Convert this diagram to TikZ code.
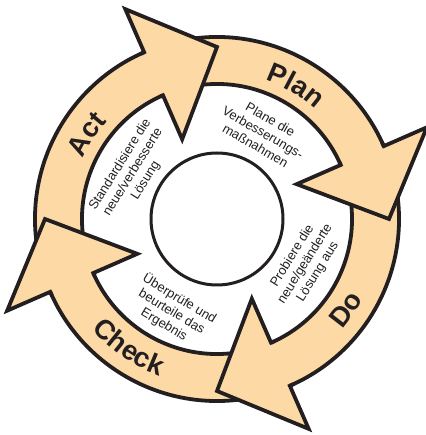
\documentclass[tikz,border=0pt]{standalone}
\usepackage{fontspec}
\setmainfont{Liberation Sans}
\usetikzlibrary{decorations.text}
\definecolor{bandfill}{RGB}{253,218,165}
\definecolor{ink}{RGB}{35,31,32}
\newcommand{\biglabel}{\fontsize{27.5}{27.5}\selectfont\bfseries\color{ink}}
\begin{document}
\begin{tikzpicture}[x=1pt,y=1pt,
  bandstyle/.style={fill=bandfill, draw=ink, line width=3.8pt, line join=miter},
  headfill/.style={fill=bandfill},
  headline/.style={draw=ink, line width=3.8pt, line join=miter},
  innertext/.style={align=center, font=\fontsize{13}{15}\selectfont, text=ink, inner sep=0pt},
  hubstyle/.style={circle, draw=ink, line width=3pt, minimum size=132pt, inner sep=0pt},
  labelpath/.style={decorate, decoration={text along path, text align=center, text={#1}}}]
\useasboundingbox (-217,-216) rectangle (208,219);
% bands of the four arrows
\foreach \t in {90,0,-90,180}{
  \pgfmathsetmacro{\ts}{\t+102}
  \pgfmathsetmacro{\te}{\t+15.6}
  \path[bandstyle] (\ts:182) arc[start angle=\ts, end angle=\te, radius=182]
     -- (\te:135) arc[start angle=\te, end angle=\ts, radius=135] -- cycle;
}
% heads of the four arrows
\foreach \t in {90,0,-90,180}{
  \pgfmathsetmacro{\tb}{\t+23.6}
  \pgfmathsetmacro{\tc}{\t+25}
  \fill[headfill] (\tb:135) -- (\tb:87) -- (\t:172) -- (\tb:229) -- (\tb:182) -- cycle;
  \draw[headline] (\tc:135) arc[start angle=\tc, end angle=\tb, radius=135]
     -- (\tb:87) -- (\t:172) -- (\tb:229) -- (\tb:182)
     arc[start angle=\tb, end angle=\tc, radius=182];
}
% hub
\node[hubstyle] (hub) at (0,0) {};
% big labels
\path[labelpath={|\biglabel|Plan}] (89.4:147) arc[start angle=89.4, end angle=29.4, radius=147];
\path[labelpath={|\biglabel|Act}] (177:147) arc[start angle=177, end angle=117, radius=147];
\path[labelpath={|\biglabel|Check}] (205.7:167) arc[start angle=205.7, end angle=265.7, radius=167];
\path[labelpath={|\biglabel|Do}] (-65:167) arc[start angle=-65, end angle=-5, radius=167];
% inner texts
\node[innertext, rotate=-30] (planNote) at (62:98) {Plane die\\Verbesserungs-\\maßnahmen};
\node[innertext, rotate=58] (doNote) at (-27:99) {Probiere die\\neue/geänderte\\Lösung aus};
\node[innertext, rotate=-31] (checkNote) at (244:103) {Überprüfe und\\beurteile das\\Ergebnis};
\node[innertext, rotate=58] (actNote) at (151:96) {Standardisiere die\\neue/verbesserte\\Lösung};
\end{tikzpicture}
\end{document}
